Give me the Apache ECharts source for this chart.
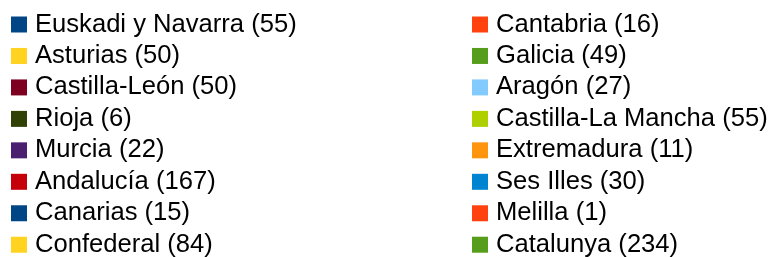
<!DOCTYPE html>
<html>
<head>
<meta charset="utf-8">
<script src="https://cdn.jsdelivr.net/npm/echarts@6/dist/echarts.min.js"></script>
<style>
  html, body { margin: 0; padding: 0; background: #fff; }
  #chart { width: 771px; height: 257px; }
</style>
</head>
<body>
<div id="chart"></div>
<script>
// regiones y número, en el orden de la leyenda (por filas)
var regions = ['Euskadi y Navarra', 'Cantabria', 'Asturias', 'Galicia', 'Castilla-León', 'Aragón',
  'Rioja', 'Castilla-La Mancha', 'Murcia', 'Extremadura', 'Andalucía', 'Ses Illes',
  'Canarias', 'Melilla', 'Confederal', 'Catalunya']
var counts = [55, 16, 50, 49, 50, 27, 6, 55, 22, 11, 167, 30, 15, 1, 84, 234]
// paleta por defecto de LibreOffice
var palette = ['#004586', '#ff420e', '#ffd320', '#579d1c', '#7e0021', '#83caff',
  '#314004', '#aecf00', '#4b1f6f', '#ff950e', '#c5000b', '#0084d1']

var chart = echarts.init(document.getElementById('chart'))

var pieData = regions.map(function (name, i) {
  return { name: name, value: counts[i] }
})
var leftNames = regions.filter(function (n, i) { return i % 2 === 0 })
var rightNames = regions.filter(function (n, i) { return i % 2 === 1 })

function legendCol(names, left) {
  return {
    orient: 'vertical',
    left: left,
    top: 11.5,
    height: 250,
    icon: 'rect',
    itemWidth: 16,
    itemHeight: 16,
    itemGap: 5.46,
    padding: 0,
    selectedMode: false,
    data: names,
    formatter: function (name) {
      return name + ' (' + counts[regions.indexOf(name)] + ')'
    },
    textStyle: {
      fontFamily: 'Liberation Sans',
      fontSize: 25.6,
      color: '#000',
      padding: [0, 0, 0, 3]
    }
  }
}

chart.setOption({
  backgroundColor: '#fff',
  color: palette,
  animation: false,
  legend: [legendCol(leftNames, 11), legendCol(rightNames, 472)],
  series: [{
    type: 'pie',
    center: [-100, -100],
    radius: [0, 0],
    label: { show: false },
    silent: true,
    data: pieData
  }]
})
</script>
</body>
</html>
